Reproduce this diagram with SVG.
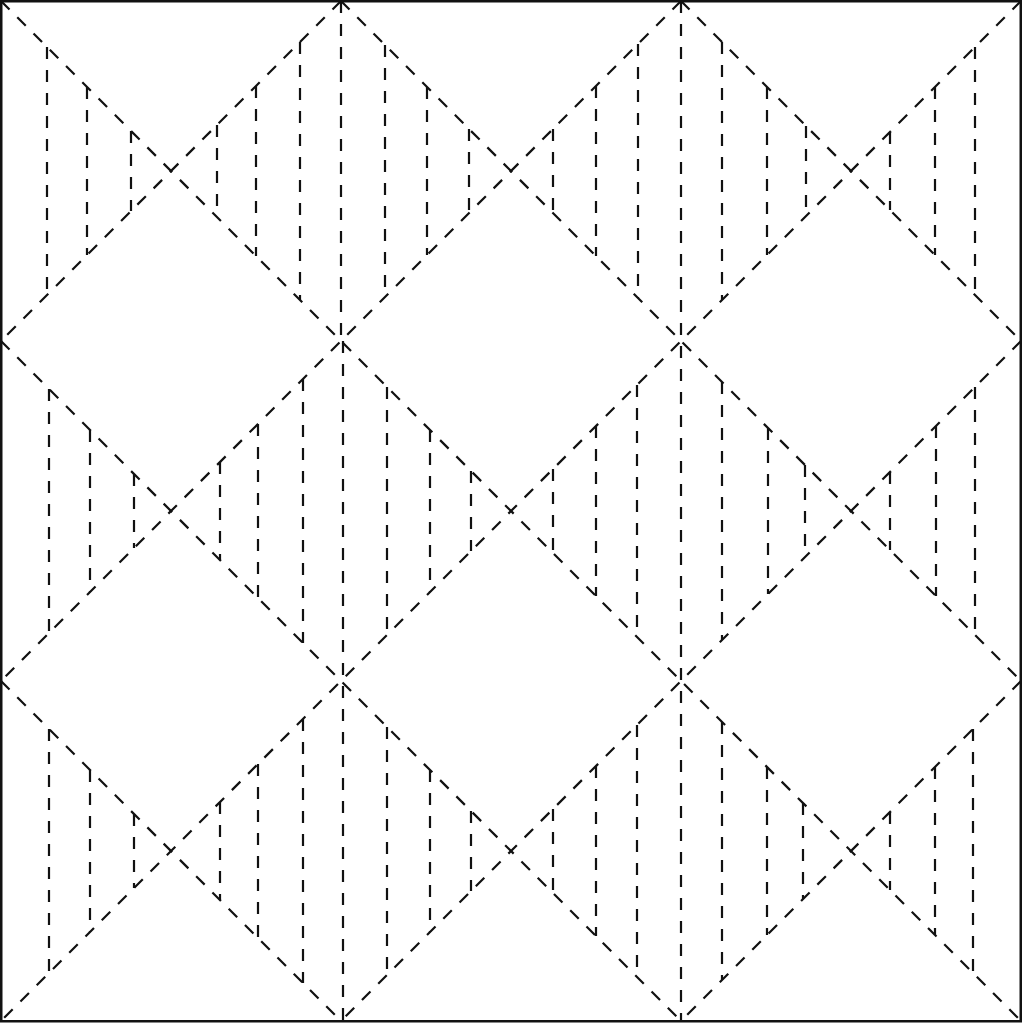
<svg xmlns="http://www.w3.org/2000/svg" width="1023" height="1024" viewBox="0 0 1023 1024">
<style>
.d{stroke:#111;stroke-width:2.2;stroke-dasharray:12 11;fill:none}
.b{stroke:#111;stroke-width:2.5;fill:none}
</style>
<rect width="1023" height="1024" fill="#fff"/>
<g id="diagonals">
<path class="d" d="M1,681L341,1021M1,341L681,1021M1,1L1021,1021M341,1L1021,681M681,1L1021,341"/>
<path class="d" d="M341,1L1,341M681,1L1,681M1021,1L1,1021M1021,341L341,1021M1021,681L681,1021"/>
</g>
<g id="center-verticals">
<path class="d" d="M341,1V339M343,341V1021M681,1V1021"/>
</g>
<g id="row1">
<path class="d" d="M47,47V295M87,87V255M131,131V211M217,125V217M256,86V256M300,42V300M385,45V297M427,87V255M469,129V213M553,129V213M596,86V256M638,44V298M722,42V300M767,87V255M806,126V216M890,132V210M935,87V255M975,47V295"/>
</g>
<g id="row2">
<path class="d" d="M49,389V633M90,430V592M134,474V548M220,462V560M258,424V598M303,379V643M387,387V635M430,430V592M471,471V551M553,469V553M596,426V596M637,385V637M722,382V640M768,428V594M805,465V557M890,472V550M936,426V596M975,387V635"/>
</g>
<g id="row3">
<path class="d" d="M49,729V973M90,770V932M134,814V888M220,802V900M258,764V938M303,719V983M387,727V975M430,770V932M471,811V891M553,809V893M596,766V936M637,725V977M722,722V980M767,767V935M803,803V899M890,812V890M935,767V935M973,729V973"/>
</g>
<g id="border">
<rect class="b" x="1.25" y="1.25" width="1019.5" height="1020"/>
</g>
</svg>
